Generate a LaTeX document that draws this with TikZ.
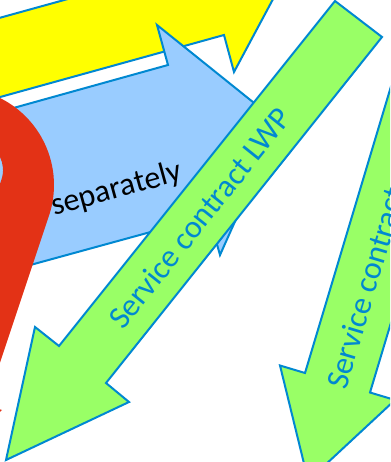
\documentclass[tikz,border=0pt]{standalone}
\usepackage{fontspec}
\setmainfont{Carlito}
\definecolor{edgeblue}{RGB}{0,136,209}
\definecolor{arrowyellow}{RGB}{255,255,0}
\definecolor{arrowblue}{RGB}{153,204,255}
\definecolor{arrowgreen}{RGB}{153,255,102}
\definecolor{arrowred}{RGB}{227,50,22}
\tikzset{
  arrowshape/.style={draw=edgeblue, line width=2pt, line join=miter},
  biglabel/.style={font=\fontsize{32}{38}\selectfont, inner sep=0pt, anchor=base west},
}
\begin{document}
\begin{tikzpicture}[x=1pt,y=-1pt]
\useasboundingbox (0,0) rectangle (390,462);
\clip (0,0) rectangle (390,462);
\fill[white] (0,0) rectangle (390,462);
% yellow arrow
\path[arrowshape, fill=arrowyellow] (-20,23.3) -- (100,-9.9) -- (120,-100) -- (310,-70) -- (234,72) -- (224,35) -- (-20,102.6) -- cycle;
% light blue arrow
\path[arrowshape, fill=arrowblue] (-20,117.3) -- (168,65) -- (157,25) -- (279,123) -- (220,255) -- (209,216) -- (-20,278.8) -- cycle;
\node[biglabel, rotate=15.5] (sep) at (54,216) {separately};
% red curved arrow
\fill[arrowred] (-140,185) arc[start angle=180, end angle=378.4, radius=97] -- (-14,404.7) -- (2,410) -- (-66.2,471.7) -- (-83.6,381.5) -- (-67.7,386.8) -- (1.5,179.4) arc[start angle=378.4, end angle=180, radius=29.7] -- cycle;
% green arrow LWP
\path[arrowshape, fill=arrowgreen] (335,1) -- (59,346) -- (35,327) -- (6,460) -- (129,402) -- (106,383) -- (382,37) -- cycle;
\node[biglabel, text=edgeblue, rotate=51.3] (lwp) at (123,331) {Service contract LWP};
% green arrow right
\path[arrowshape, fill=arrowgreen] (425,-27) -- (305,373) -- (280,365.5) -- (308.2,480.7) -- (395,400) -- (370,392.5) -- (496,-27) -- cycle;
\node[biglabel, text=edgeblue, rotate=73.3] (sc) at (346,391) {Service contract};
\end{tikzpicture}
\end{document}
